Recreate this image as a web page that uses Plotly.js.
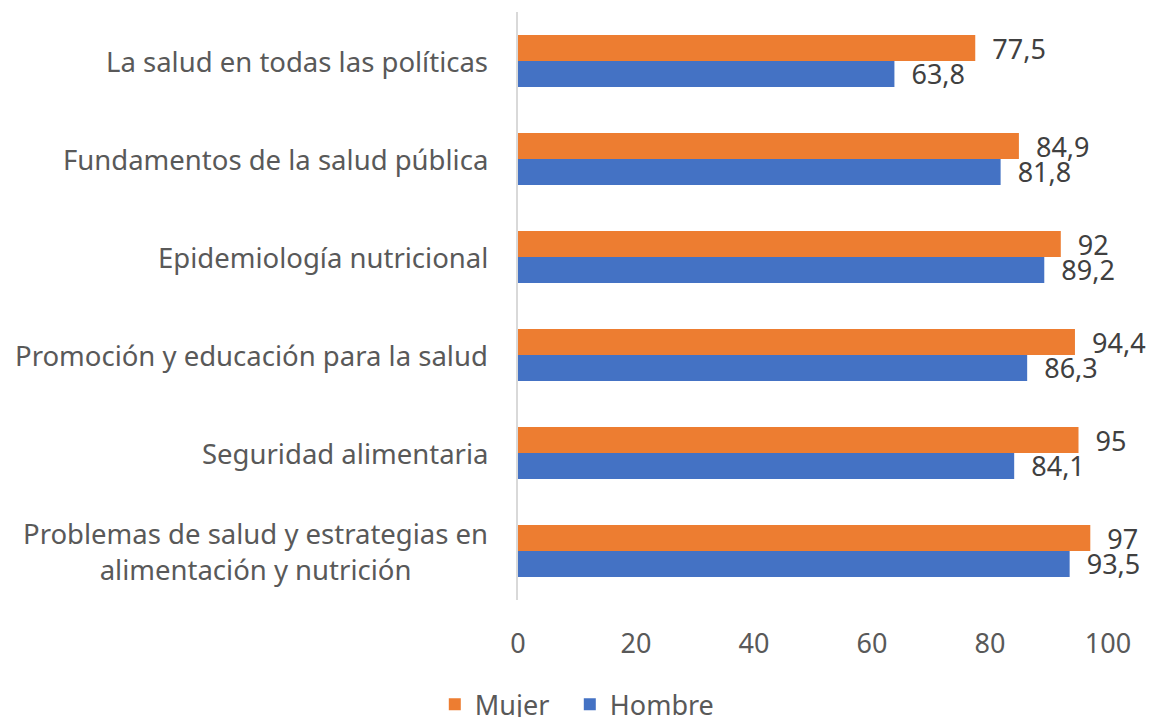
<!DOCTYPE html>
<html><head><meta charset="utf-8">
<script src="https://cdn.plot.ly/plotly-3.0.1.min.js"></script>
<style>body{margin:0;background:#fff}#c{width:1150px;height:717px}</style>
</head><body><div id="c"></div>
<script>
const categories = [
  "La salud en todas las políticas",
  "Fundamentos de la salud pública",
  "Epidemiología nutricional",
  "Promoción y educación para la salud",
  "Seguridad alimentaria",
  "Problemas de salud y estrategias en<br>alimentación y nutrición"
];
const mujer = [77.5, 84.9, 92, 94.4, 95, 97];
const hombre = [63.8, 81.8, 89.2, 86.3, 84.1, 93.5];
const xTicks = [0, 20, 40, 60, 80, 100];

const fmt = v => '\u00a0\u00a0' + String(v).replace('.', ',');
const FONT = "Noto Sans, Open Sans, sans-serif";
const TXT = "#595959";

const traces = [
  {type:'bar', orientation:'h', name:'Mujer', y:categories, x:mujer, legendwidth:90,
   marker:{color:'#ED7D31'}, text:mujer.map(fmt), textposition:'outside',
   textfont:{family:FONT, size:27, color:'#404040'}, cliponaxis:false, constraintext:'none'},
  {type:'bar', orientation:'h', name:'Hombre', y:categories, x:hombre,
   marker:{color:'#4472C4'}, text:hombre.map(fmt), textposition:'outside',
   textfont:{family:FONT, size:27, color:'#404040'}, cliponaxis:false, constraintext:'none'}
];

const annotations = categories.map(c => ({
  xref:'paper', yref:'y', x:0, y:c, xanchor:'right', yanchor:'middle',
  xshift:-28, text:c, showarrow:false, align:'center',
  font:{family:FONT, size:27.5, color:TXT}
}));

const layout = {
  width:1150, height:717,
  margin:{l:518, r:42, t:12, b:117},
  paper_bgcolor:'#fff', plot_bgcolor:'#fff',
  barmode:'group', bargap:0.47, bargroupgap:0,
  font:{family:FONT, color:TXT},
  xaxis:{range:[0,100], tickvals:xTicks, ticktext:xTicks.map(String), showgrid:false,
         zeroline:false, showline:false, ticks:'', ticklabelstandoff:25, automargin:false,
         tickfont:{family:FONT, size:27, color:TXT}, fixedrange:true},
  yaxis:{autorange:'reversed', showticklabels:false, showgrid:false, zeroline:false,
         showline:true, linecolor:'#d9d9d9', linewidth:2, ticks:'', automargin:false},
  showlegend:true,
  legend:{orientation:'h', xref:'container', yref:'container', x:0.502, xanchor:'center',
          y:0.017, yanchor:'middle',
          font:{family:FONT, size:27, color:TXT}, traceorder:'normal'},
  annotations:annotations
};
Plotly.newPlot('c', traces, layout, {displayModeBar:false, staticPlot:true});
</script></body></html>
